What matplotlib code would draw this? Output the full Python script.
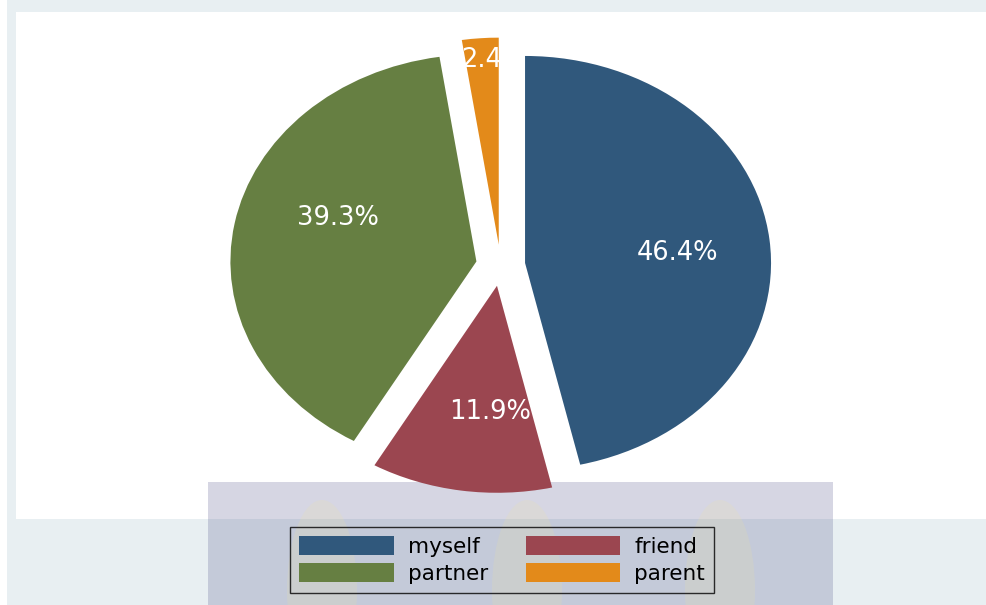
import numpy as np
import matplotlib
matplotlib.use("Agg")
import matplotlib.pyplot as plt
from matplotlib.patches import Rectangle, Patch, Ellipse

# ---- data ----
categories = ["myself", "friend", "partner", "parent"]
shares = [46.4, 11.9, 39.3, 2.4]
colors = ["#30587C", "#9B4650", "#667F42", "#E38A1A"]
legend_order = ["myself", "partner", "friend", "parent"]
label_radius = [0.62, 0.61, 0.60, 0.89]
label_angle_shift = [-2, 6, -10, -3]

W, H = 986, 605
fig = plt.figure(figsize=(W / 100, H / 100), dpi=100)
fig.patch.set_facecolor("#E8EFF2")

# background decoration (pixel coords)
bg = fig.add_axes([0, 0, 1, 1], zorder=-1)
bg.set_xlim(0, W)
bg.set_ylim(H, 0)
bg.axis("off")
bg.add_patch(Rectangle((0, 0), 7, H, color="white", lw=0))
bg.add_patch(Rectangle((16, 12), W - 16, 507, color="white", lw=0))
bg.add_patch(Rectangle((208, 482), 625, 37, color="#D6D6E3", lw=0))
bg.add_patch(Rectangle((208, 519), 625, 86, color="#C4CAD9", lw=0))
for xc in (322, 527, 720):
    bg.add_patch(Ellipse((xc, 590), 70, 180, color="#F2E69A", alpha=0.16, lw=0))

# pie axes: stretched (ellipse) like the reference
ax = fig.add_axes([0, 0, 1, 1])
ax.set_facecolor("none")
cx_px, cy_px, rx_px, ry_px = 500.6, 265.3, 246.0, 207.0

wedges, _ = ax.pie(shares, colors=colors, startangle=90, counterclock=False,
                   explode=[0.1] * len(shares), radius=1.0,
                   wedgeprops=dict(linewidth=0))
ax.set_xlim((0 - cx_px) / rx_px, (W - cx_px) / rx_px)
ax.set_ylim((cy_px - H) / ry_px, (cy_px - 0) / ry_px)
ax.set_aspect("auto")
ax.axis("off")

for w, v, r, s in zip(wedges, shares, label_radius, label_angle_shift):
    th = np.deg2rad((w.theta1 + w.theta2) / 2 + s)
    x = w.center[0] + r * np.cos(th)
    y = w.center[1] + r * np.sin(th)
    ax.text(x, y, f"{v:.1f}%", color="white", ha="center", va="center",
            fontsize=18.5, family="DejaVu Sans")

handles = [Patch(facecolor=colors[categories.index(c)], edgecolor="none")
           for c in legend_order]
leg = fig.legend(handles, legend_order, loc="center", ncol=2,
                 bbox_to_anchor=(502 / W, 1 - 560 / H),
                 bbox_transform=fig.transFigure,
                 prop=dict(family="DejaVu Sans", size=15.5),
                 frameon=True, fancybox=False, handlelength=4.4,
                 handleheight=1.0, handletextpad=0.65, columnspacing=1.75,
                 labelspacing=0.3, borderpad=0.4)
leg.get_frame().set_edgecolor("black")
leg.get_frame().set_linewidth(1.0)
leg.get_frame().set_facecolor("none")

fig.savefig("out.png", dpi=100, facecolor=fig.get_facecolor())
